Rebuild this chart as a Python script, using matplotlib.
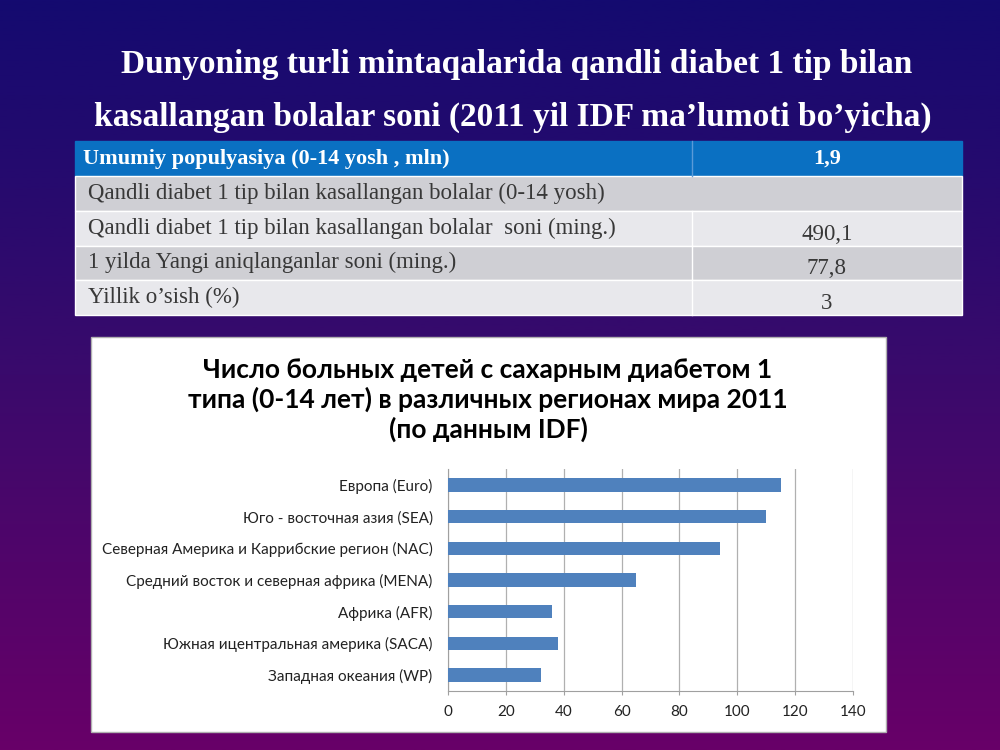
import numpy as np
import matplotlib.pyplot as plt
from matplotlib.patches import Rectangle
from matplotlib.colors import LinearSegmentedColormap

title_lines = ["Dunyoning turli mintaqalarida qandli diabet 1 tip bilan",
               "kasallangan bolalar soni (2011 yil IDF ma\u2019lumoti bo\u2019yicha)"]

table_header = ["Umumiy populyasiya (0-14 yosh , mln)", "1,9"]
table_labels = ["Qandli diabet 1 tip bilan kasallangan bolalar (0-14 yosh)",
                "Qandli diabet 1 tip bilan kasallangan bolalar  soni (ming.)",
                "1 yilda Yangi aniqlanganlar soni (ming.)",
                "Yillik o\u2019sish (%)"]
table_values = ["", "490,1", "77,8", "3"]

chart_title = ("Число больных детей с сахарным диабетом 1\n"
               "типа (0-14 лет) в различных регионах мира 2011\n"
               "(по данным IDF)")
regions = ["Европа (Euro)",
           "Юго - восточная азия (SEA)",
           "Северная Америка и Каррибские регион (NAC)",
           "Средний восток и северная африка (MENA)",
           "Африка (AFR)",
           "Южная ицентральная америка (SACA)",
           "Западная океания (WP)"]
counts = [115, 110, 94, 65, 36, 38, 32]
xticks = [0, 20, 40, 60, 80, 100, 120, 140]

fig = plt.figure(figsize=(10, 7.5), dpi=100)

# background gradient, pixel coordinates
bg = fig.add_axes([0, 0, 1, 1])
bg.set_xlim(0, 1000)
bg.set_ylim(750, 0)
bg.axis("off")
cmap = LinearSegmentedColormap.from_list("bg", ["#140a70", "#3a0a6c", "#680068"])
grad = np.linspace(0, 1, 256).reshape(-1, 1)
bg.imshow(grad, cmap=cmap, aspect="auto", extent=[0, 1000, 750, 0], zorder=0)

# slide title
serif = ["Liberation Serif", "DejaVu Serif"]
bg.text(517, 65, title_lines[0], color="white", fontsize=24, fontweight="bold",
        family=serif, ha="center", va="center")
bg.text(513, 117, title_lines[1], color="white", fontsize=24, fontweight="bold",
        family=serif, ha="center", va="center")

# table
x0, xs, x1 = 75, 692, 962
fs_tab = 16.5
bg.add_patch(Rectangle((x0, 141), xs - x0, 35, color="#0a70c2", zorder=1))
bg.add_patch(Rectangle((xs, 141), x1 - xs, 35, color="#0a70c2", zorder=1))
bg.plot([xs, xs], [141, 176], color="#5a9ad8", lw=1, zorder=2)
bg.text(83, 159, table_header[0], color="white", fontsize=16, fontweight="bold",
        family=serif, va="center", zorder=3)
bg.text(827, 159, table_header[1], color="white", fontsize=16, fontweight="bold",
        family=serif, ha="center", va="center", zorder=3)
row_top = 176
for i, (lab, val) in enumerate(zip(table_labels, table_values)):
    h = 34.75
    y = row_top + i * h
    fc = "#cfcfd4" if i % 2 == 0 else "#e8e8ec"
    bg.add_patch(Rectangle((x0, y), x1 - x0, h, facecolor=fc, edgecolor="white",
                           lw=1, zorder=1))
    if i > 0:
        bg.plot([xs, xs], [y, y + h], color="white", lw=1, zorder=2)
    bg.text(88, y + h / 2, lab, color="#383838", fontsize=fs_tab,
            family=serif, va="center", zorder=3)
    if val:
        bg.text(827, y + h / 2 + 6, val, color="#383838", fontsize=fs_tab,
                family=serif, ha="center", va="center", zorder=3)

# chart box
bg.add_patch(Rectangle((91, 337), 795, 395, facecolor="white", edgecolor="#b0b0b0",
                       lw=1, zorder=1))

sans = ["Lato", "Open Sans", "DejaVu Sans"]
bg.text(488, 400, chart_title, color="black", fontsize=19, fontweight="bold",
        family=sans, ha="center", va="center", linespacing=1.22, zorder=3)

ax = fig.add_axes([0.448, 1 - 691 / 750, 0.405, (691 - 469) / 750])
ypos = np.arange(len(regions))
ax.barh(ypos, counts, height=0.42, color="#4f81bd", zorder=3)
ax.set_ylim(len(regions) - 0.5, -0.5)
ax.set_xlim(0, 140)
ax.set_xticks(xticks)
ax.set_yticks(ypos)
ax.set_yticklabels(regions, family=sans, fontsize=11, color="#222222")
ax.set_xticklabels([str(t) for t in xticks], family=sans, fontsize=11, color="#222222")
ax.grid(axis="x", color="#b0b0b0", lw=0.9, zorder=0)
for s in ["top", "right"]:
    ax.spines[s].set_visible(False)
for s in ["left", "bottom"]:
    ax.spines[s].set_color("#a0a0a0")
ax.tick_params(axis="y", length=0, pad=11)
ax.tick_params(axis="x", length=3, color="#a0a0a0", pad=7)
ax.set_facecolor("white")

fig.savefig("out.png", dpi=100)
